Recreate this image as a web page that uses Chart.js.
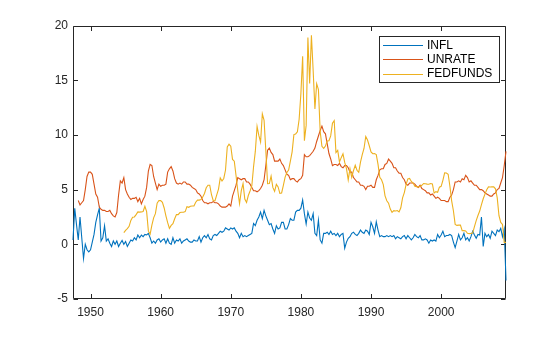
<!DOCTYPE html>
<html>
<head>
<meta charset="utf-8">
<script src="https://cdn.jsdelivr.net/npm/chart.js@4.4.1/dist/chart.umd.min.js"></script>
<style>
  html, body { margin: 0; padding: 0; background: #ffffff; }
  #wrap { width: 560px; height: 337px; }
</style>
</head>
<body>
<div id="wrap"><canvas id="c" width="560" height="337"></canvas></div>
<script>
// ---- Data (quarterly, dated at quarter end) ----
const SERIES_NAMES = ["INFL", "UNRATE", "FEDFUNDS"];
const QUARTER_STEP = 0.25;
const INFL_START = 1947.5;      // 1947 Q2
const UNRATE_START = 1948.25;   // 1948 Q1
const FEDFUNDS_START = 1954.75; // 1954 Q3

const INFL = [
  0.4, 3.3, 1.8,            // 1947
  0.4, 2.5, 0.6, -1.3,      // 1948
  0.0, -0.5, -0.7, -0.5,    // 1949
  0.2, 0.9, 2.0, 2.7,       // 1950
  3.3, 0.3, 0.6, 1.7,       // 1951
  0.3, 0.5, 0.1, -0.2,      // 1952
  0.3, 0.0, 0.3, -0.2,      // 1953
  0.1, 0.35, 0.0, 0.25,     // 1954
  -0.2, 0.1, 0.4, 0.3,      // 1955
  0.6, 0.4, 0.85, 0.6,      // 1956
  0.85, 0.7, 0.9, 0.85,     // 1957
  1.0, 0.6, 0.1, 0.3,       // 1958
  0.1, 0.4, 0.5, 0.2,       // 1959
  0.4, 0.5, 0.1, 0.5,       // 1960
  0.1, 0.0, 0.6, 0.1,       // 1961
  0.4, 0.3, 0.5, 0.1,       // 1962
  0.3, 0.4, 0.5, 0.3,       // 1963
  0.2, 0.2, 0.4, 0.3,       // 1964
  0.3, 0.7, 0.2, 0.6,       // 1965
  0.8, 0.6, 0.9, 0.5,       // 1966
  0.4, 0.8, 0.9, 0.8,       // 1967
  1.0, 1.2, 1.1, 1.2,       // 1968
  1.5, 1.4, 1.3, 1.5,       // 1969
  1.4, 1.5, 1.2, 1.0,       // 1970
  0.6, 1.0, 0.7, 0.8,       // 1971
  0.7, 0.8, 0.9, 1.0,       // 1972
  1.9, 1.7, 2.2, 2.5,       // 1973
  2.95, 2.35, 3.1, 2.6,     // 1974
  2.2, 1.8, 1.9, 1.4,       // 1975
  1.0, 1.7, 1.4, 1.5,       // 1976
  2.0, 2.0, 1.4, 1.4,       // 1977
  1.8, 2.35, 2.2, 2.2,      // 1978
  2.95, 3.1, 3.1, 3.3,      // 1979
  4.05, 2.8, 1.85, 2.95,    // 1980
  2.4, 2.2, 2.8, 1.0,       // 1981
  0.8, 2.2, 0.4, 0.1,       // 1982
  1.0, 1.0, 1.1, 0.9,       // 1983
  1.2, 0.9, 1.0, 0.8,       // 1984
  1.0, 0.7, 0.9, 1.0,       // 1985
  -0.35, 0.2, 0.55, 0.7,    // 1986
  1.0, 1.1, 0.9, 0.8,       // 1987
  1.0, 1.3, 1.1, 1.0,       // 1988
  1.3, 1.2, 0.9, 2.0,       // 1989
  1.6, 1.0, 2.05, 1.3,      // 1990
  0.7, 0.8, 0.7, 0.7,       // 1991
  0.8, 0.7, 0.8, 0.7,       // 1992
  0.8, 0.5, 0.7, 0.6,       // 1993
  0.5, 0.7, 0.8, 0.5,       // 1994
  0.8, 0.6, 0.4, 0.6,       // 1995
  0.9, 0.7, 0.6, 0.8,       // 1996
  0.4, 0.4, 0.5, 0.4,       // 1997
  0.1, 0.4, 0.3, 0.4,       // 1998
  0.3, 0.9, 0.6, 0.85,      // 1999
  1.2, 0.7, 0.8, 0.8,       // 2000
  0.9, 0.8, 0.2, -0.3,      // 2001
  0.3, 0.9, 0.4, 0.6,       // 2002
  1.0, 0.4, 0.6, 0.3,       // 2003
  0.7, 1.2, 0.85, 0.55,     // 2004
  0.9, 0.85, 2.5, -0.2,     // 2005
  1.0, 0.7, 0.9, 0.55,      // 2006
  1.2, 1.0, 0.8, 1.3,       // 2007
  1.15, 1.45, 0.7, 1.4,     // 2008
  -3.3                      // 2009
];

const UNRATE = [
  4.0, 3.6, 3.8, 4.0,       // 1948
  5.0, 6.2, 6.6, 6.6,       // 1949
  6.4, 5.5, 4.6, 4.3,       // 1950
  3.4, 3.2, 3.1, 3.1,       // 1951
  3.0, 3.0, 3.1, 2.8,       // 1952
  2.6, 2.5, 2.9, 4.5,       // 1953
  5.8, 5.6, 6.1, 5.0,       // 1954
  4.6, 4.3, 4.1, 4.2,       // 1955
  4.2, 4.3, 3.9, 4.2,       // 1956
  3.7, 4.1, 4.4, 5.2,       // 1957
  6.7, 7.3, 7.2, 6.2,       // 1958
  5.6, 5.0, 5.5, 5.3,       // 1959
  5.4, 5.4, 5.5, 6.6,       // 1960
  6.9, 7.1, 6.7, 6.0,       // 1961
  5.6, 5.5, 5.6, 5.5,       // 1962
  5.7, 5.7, 5.5, 5.5,       // 1963
  5.4, 5.2, 5.1, 5.0,       // 1964
  4.7, 4.6, 4.4, 4.0,       // 1965
  3.8, 3.8, 3.7, 3.8,       // 1966
  3.8, 3.9, 3.8, 3.8,       // 1967
  3.7, 3.5, 3.4, 3.4,       // 1968
  3.4, 3.5, 3.7, 3.5,       // 1969
  4.4, 4.9, 5.4, 6.1,       // 1970
  6.0, 5.9, 6.0, 6.0,       // 1971
  5.7, 5.7, 5.5, 5.2,       // 1972
  4.9, 4.9, 4.8, 4.9,       // 1973
  5.1, 5.4, 5.9, 7.2,       // 1974
  8.6, 8.8, 8.4, 8.2,       // 1975
  7.6, 7.6, 7.6, 7.8,       // 1976
  7.4, 7.2, 6.8, 6.4,       // 1977
  6.3, 5.9, 6.0, 6.0,       // 1978
  5.8, 5.7, 5.9, 6.0,       // 1979
  6.3, 8.2, 8.0, 8.0,       // 1980
  8.1, 8.3, 8.5, 8.8,       // 1981
  9.4, 9.9, 10.4, 10.8,     // 1982
  10.3, 10.1, 9.2, 8.3,     // 1983
  7.8, 7.2, 7.3, 7.3,       // 1984
  7.2, 7.4, 7.1, 7.0,       // 1985
  7.2, 7.2, 7.0, 6.6,       // 1986
  6.6, 6.1, 5.9, 5.7,       // 1987
  5.7, 5.4, 5.4, 5.3,       // 1988
  5.0, 5.3, 5.3, 5.4,       // 1989
  5.2, 5.2, 5.9, 6.3,       // 1990
  6.8, 6.9, 6.9, 7.3,       // 1991
  7.4, 7.8, 7.6, 7.4,       // 1992
  7.0, 7.0, 6.7, 6.5,       // 1993
  6.5, 6.1, 5.9, 5.5,       // 1994
  5.4, 5.6, 5.6, 5.6,       // 1995
  5.5, 5.3, 5.2, 5.4,       // 1996
  5.1, 5.0, 4.9, 4.7,       // 1997
  4.7, 4.5, 4.6, 4.4,       // 1998
  4.2, 4.3, 4.2, 4.0,       // 1999
  4.0, 4.0, 3.9, 3.9,       // 2000
  4.3, 4.5, 5.0, 5.7,       // 2001
  5.7, 5.8, 5.7, 6.0,       // 2002
  5.9, 6.3, 6.1, 5.7,       // 2003
  5.8, 5.6, 5.4, 5.4,       // 2004
  5.2, 5.0, 5.0, 4.9,       // 2005
  4.7, 4.6, 4.5, 4.4,       // 2006
  4.4, 4.6, 4.7, 5.0,       // 2007
  5.1, 5.6, 6.1, 7.2,       // 2008
  8.5                       // 2009
];

const FEDFUNDS = [
  1.07, 1.28,               // 1954
  1.43, 1.64, 2.18, 2.48,   // 1955
  2.50, 2.71, 2.96, 2.94,   // 1956
  2.96, 3.00, 3.47, 2.98,   // 1957
  1.20, 0.93, 1.76, 2.42,   // 1958
  2.80, 3.76, 4.00, 3.99,   // 1959
  3.84, 3.32, 2.60, 1.98,   // 1960
  1.46, 1.73, 1.88, 2.33,   // 1961
  2.72, 2.71, 2.90, 2.93,   // 1962
  2.93, 2.99, 3.44, 3.38,   // 1963
  3.48, 3.50, 3.50, 3.85,   // 1964
  4.04, 4.04, 4.09, 4.32,   // 1965
  4.65, 5.17, 5.40, 5.40,   // 1966
  4.53, 3.98, 3.99, 4.51,   // 1967
  5.05, 6.07, 5.78, 6.02,   // 1968
  6.79, 8.90, 9.15, 8.97,   // 1969
  7.76, 7.60, 6.29, 4.90,   // 1970
  3.71, 4.91, 5.55, 4.14,   // 1971
  3.83, 4.46, 4.87, 5.33,   // 1972
  7.09, 8.49, 10.78, 9.95,  // 1973
  9.35, 11.93, 11.34, 8.53, // 1974
  5.54, 5.55, 6.24, 5.20,   // 1975
  4.84, 5.48, 5.25, 4.65,   // 1976
  4.69, 5.39, 6.14, 6.56,   // 1977
  6.79, 7.60, 8.45, 10.03,  // 1978
  10.09, 10.29, 11.43, 13.78, // 1979
  17.19, 9.47, 10.87, 18.90,  // 1980
  14.70, 19.10, 15.87, 12.37, // 1981
  14.68, 14.15, 10.31, 8.95,  // 1982
  8.77, 8.98, 9.45, 9.47,   // 1983
  9.91, 11.06, 11.30, 8.38, // 1984
  8.58, 7.53, 7.92, 8.27,   // 1985
  7.48, 6.92, 5.89, 6.91,   // 1986
  6.13, 6.73, 7.22, 6.77,   // 1987
  6.58, 7.51, 8.19, 8.76,   // 1988
  9.85, 9.53, 9.01, 8.45,   // 1989
  8.28, 8.29, 8.20, 7.31,   // 1990
  6.12, 5.90, 5.45, 4.43,   // 1991
  3.98, 3.76, 3.22, 2.92,   // 1992
  3.07, 3.04, 3.09, 2.96,   // 1993
  3.34, 4.25, 4.73, 5.45,   // 1994
  5.98, 6.02, 5.74, 5.60,   // 1995
  5.31, 5.27, 5.24, 5.29,   // 1996
  5.39, 5.56, 5.54, 5.50,   // 1997
  5.49, 5.56, 5.51, 4.68,   // 1998
  4.81, 4.76, 5.22, 5.30,   // 1999
  5.85, 6.53, 6.52, 6.40,   // 2000
  5.31, 3.97, 3.07, 1.82,   // 2001
  1.73, 1.75, 1.75, 1.24,   // 2002
  1.25, 1.22, 1.01, 0.98,   // 2003
  1.00, 1.03, 1.61, 2.16,   // 2004
  2.63, 3.04, 3.62, 4.16,   // 2005
  4.59, 4.99, 5.25, 5.24,   // 2006
  5.26, 5.25, 5.07, 4.24,   // 2007
  2.61, 2.00, 1.81, 0.16,   // 2008
  0.18                      // 2009
];

const X_TICKS = [1950, 1960, 1970, 1980, 1990, 2000];
const Y_TICKS = [-5, 0, 5, 10, 15, 20];
const X_RANGE = [1947.5, 2009.25];
const Y_RANGE = [-5, 20];
const COLORS = ["#0072BD", "#D95319", "#EDB120"];

function toPoints(start, values) {
  return values.map((v, i) => ({ x: start + i * QUARTER_STEP, y: v }));
}

const AXIS_COLOR = "#262626";
const FONT_FAMILY = "'Liberation Sans', Arial, Helvetica, sans-serif";

// MATLAB-like box, inward ticks (under the data) and legend (over the data)
const matlabAxes = {
  id: "matlabAxes",
  beforeDatasetsDraw(chart) {
    const ctx = chart.ctx;
    const a = chart.chartArea;
    const xs = chart.scales.x, ys = chart.scales.y;
    const L = Math.round(a.left) + 0.5, R = Math.round(a.right) - 0.5;
    const T = Math.round(a.top) + 0.5, B = Math.round(a.bottom) - 0.5;
    ctx.save();
    ctx.strokeStyle = AXIS_COLOR;
    ctx.lineWidth = 1;
    ctx.beginPath();
    ctx.rect(L, T, R - L, B - T);
    ctx.stroke();
    const tl = 4.5;
    ctx.beginPath();
    X_TICKS.forEach(v => {
      const px = Math.round(xs.getPixelForValue(v)) + 0.5;
      ctx.moveTo(px, B); ctx.lineTo(px, B - tl);
      ctx.moveTo(px, T); ctx.lineTo(px, T + tl);
    });
    Y_TICKS.forEach(v => {
      const py = Math.round(ys.getPixelForValue(v)) + 0.5;
      ctx.moveTo(L, py); ctx.lineTo(L + tl, py);
      ctx.moveTo(R, py); ctx.lineTo(R - tl, py);
    });
    ctx.stroke();
    ctx.restore();
  },
  afterDatasetsDraw(chart) {
    const ctx = chart.ctx;
    ctx.save();
    const bx = 379.5, by = 36.5, bw = 120, bh = 46;
    ctx.fillStyle = "#ffffff";
    ctx.fillRect(bx, by, bw, bh);
    ctx.strokeStyle = AXIS_COLOR;
    ctx.lineWidth = 1;
    ctx.strokeRect(bx, by, bw, bh);
    ctx.font = "12px " + FONT_FAMILY;
    ctx.textBaseline = "middle";
    ctx.textAlign = "left";
    chart.data.datasets.forEach((ds, i) => {
      const yy = by + 8.5 + i * 14.3;
      ctx.strokeStyle = ds.borderColor;
      ctx.lineWidth = 1;
      ctx.beginPath();
      ctx.moveTo(383, Math.round(yy) + 0.5);
      ctx.lineTo(423, Math.round(yy) + 0.5);
      ctx.stroke();
      ctx.fillStyle = "#000000";
      ctx.fillText(ds.label, 427, yy + 0.5);
    });
    ctx.restore();
  }
};

const datasets = [
  { label: SERIES_NAMES[0], data: toPoints(INFL_START, INFL), borderColor: COLORS[0], order: 2 },
  { label: SERIES_NAMES[1], data: toPoints(UNRATE_START, UNRATE), borderColor: COLORS[1], order: 1 },
  { label: SERIES_NAMES[2], data: toPoints(FEDFUNDS_START, FEDFUNDS), borderColor: COLORS[2], order: 0 }
].map(d => Object.assign(d, {
  borderWidth: 1.1,
  pointRadius: 0,
  tension: 0,
  fill: false,
  clip: 2,
  backgroundColor: d.borderColor
}));

new Chart(document.getElementById("c"), {
  type: "line",
  data: { datasets },
  options: {
    responsive: false,
    animation: false,
    devicePixelRatio: 1,
    layout: { padding: { top: 25.5, right: 54, left: 0, bottom: 0 } },
    plugins: { legend: { display: false }, tooltip: { enabled: false } },
    scales: {
      x: {
        type: "linear",
        min: X_RANGE[0],
        max: X_RANGE[1],
        afterBuildTicks: s => { s.ticks = X_TICKS.map(v => ({ value: v })); },
        afterFit: s => { s.height = 38; },
        grid: { display: false, drawTicks: false },
        border: { display: false },
        ticks: {
          color: AXIS_COLOR,
          font: { family: FONT_FAMILY, size: 12 },
          padding: 6,
          maxRotation: 0,
          autoSkip: false,
          callback: v => String(v)
        }
      },
      y: {
        type: "linear",
        min: Y_RANGE[0],
        max: Y_RANGE[1],
        afterBuildTicks: s => { s.ticks = Y_TICKS.map(v => ({ value: v })); },
        afterFit: s => { s.width = 73; },
        grid: { display: false, drawTicks: false },
        border: { display: false },
        ticks: {
          color: AXIS_COLOR,
          font: { family: FONT_FAMILY, size: 12 },
          padding: 5,
          callback: v => String(v)
        }
      }
    }
  },
  plugins: [matlabAxes]
});
</script>
</body>
</html>
